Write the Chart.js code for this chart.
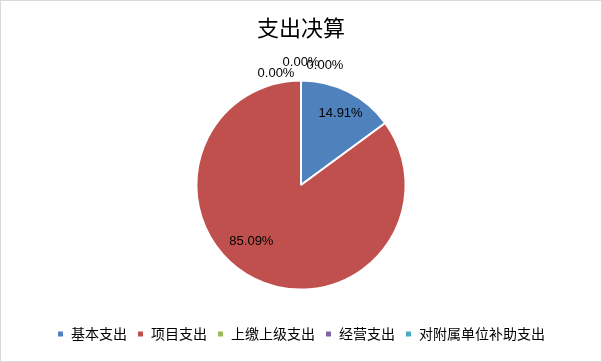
<!DOCTYPE html>
<html>
<head>
<meta charset="utf-8">
<script src="https://cdn.jsdelivr.net/npm/chart.js"></script>
<style>
  html, body { margin: 0; padding: 0; background: #fff; }
  #wrap { width: 600px; height: 360px; border: 1px solid #d9d9d9; }
</style>
</head>
<body>
<div id="wrap"><canvas id="pie" width="600" height="360"></canvas></div>
<script>
var categories = ['基本支出', '项目支出', '上缴上级支出', '经营支出', '对附属单位补助支出'];
var values = [14.91, 85.09, 0, 0, 0];
var colors = ['#4F81BD', '#C0504D', '#9BBB59', '#8064A2', '#4BACC6'];

// nudges for the percent labels (Excel best-fit look)
var labelOffsets = [[16, -25], [-26, 10], [-25, -112], [0, -123], [24, -120]];

var pctLabels = {
	id: 'pctLabels',
	afterDatasetsDraw: function(chart) {
		var c = chart.ctx;
		var meta = chart.getDatasetMeta(0);
		c.save();
		c.font = '13px "Liberation Sans", "Noto Sans", sans-serif';
		c.fillStyle = '#000';
		c.textAlign = 'center';
		c.textBaseline = 'middle';
		meta.data.forEach(function(arc, i) {
			var p = arc.tooltipPosition();
			var txt = values[i].toFixed(2) + '%';
			if (values[i] === 0) {
				p = { x: arc.x, y: arc.y };
			}
			c.fillText(txt, p.x + labelOffsets[i][0], p.y + labelOffsets[i][1]);
		});
		c.restore();
	}
};

var ctx = document.getElementById('pie');

new Chart(ctx, {
	type: 'pie',
	data: {
		labels: categories,
		datasets: [{
			data: values,
			backgroundColor: colors,
			borderColor: '#fff',
			borderWidth: 2,
		}],
	},
	options: {
		responsive: false,
		animation: false,
		events: [],
		layout: {
			padding: { top: 0, bottom: 10 }
		},
		plugins: {
			title: {
				display: true,
				text: '支出决算',
				color: '#000',
				font: { family: '"Noto Sans CJK SC", sans-serif', size: 22, weight: 'normal' },
				padding: { top: 13, bottom: 39 }
			},
			legend: {
				position: 'bottom',
				title: {
					display: true,
					text: ' ',
					font: { size: 12 },
					padding: { top: 6, bottom: 6 }
				},
				labels: {
					boxWidth: 7,
					boxHeight: 7,
					padding: 10,
					color: '#000',
					font: { family: '"Noto Sans CJK SC", sans-serif', size: 14 }
				}
			},
			tooltip: { enabled: false }
		}
	},
	plugins: [pctLabels]
});
</script>
</body>
</html>
